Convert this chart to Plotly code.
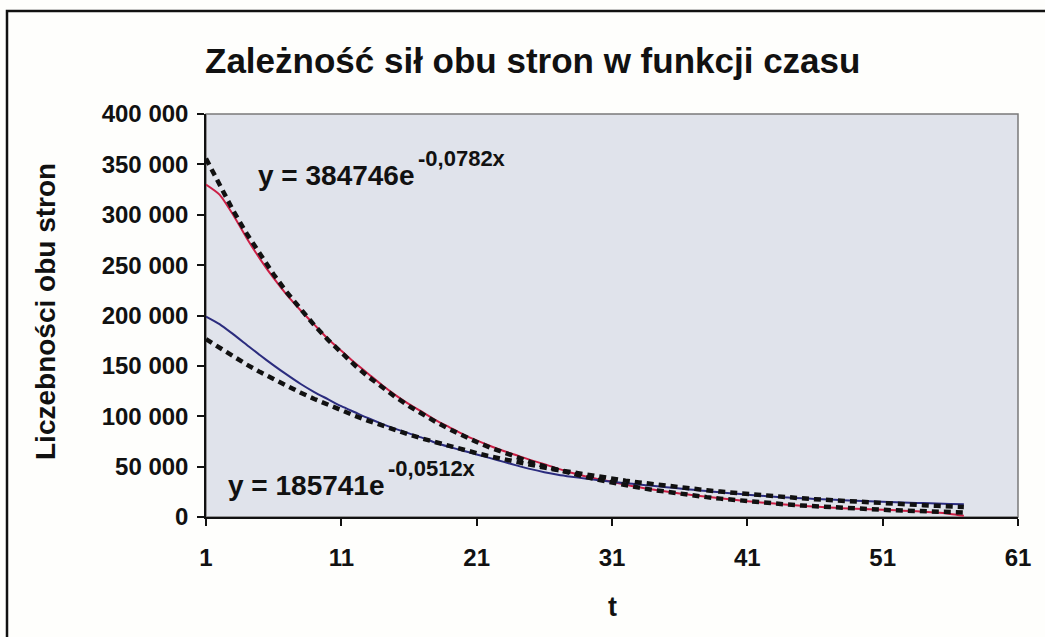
import plotly.graph_objects as go

# ---------------- data ----------------
t = list(range(1, 58))

red_side = [330000, 320000, 300000, 277000, 256000, 237000, 220000, 205000, 191000, 177000,
            165000, 153000, 142000, 131000, 121000, 112000, 104000, 96000, 89000, 82000,
            76000, 70500, 65500, 61000, 56500, 52500, 48000, 44000, 40500, 37500,
            35000, 32000, 29500, 27300, 25300, 23400, 21700, 20000, 18500, 17100,
            15700, 14400, 13300, 12200, 11200, 10300, 9500, 8800, 8200, 7600,
            7100, 6600, 6000, 5300, 4400, 3000, 1200]

blue_side = [199000, 191500, 181500, 171000, 160500, 150500, 141000, 132000, 124000, 117000,
             110000, 104000, 98000, 92500, 87500, 83000, 78500, 73500, 69500, 65800,
             62100, 58400, 54700, 51000, 47500, 44500, 42000, 40000, 38200, 36500,
             35000, 33600, 32200, 30900, 29600, 28300, 27000, 25700, 24500, 23300,
             22200, 21100, 20100, 19300, 18600, 17900, 17300, 16700, 16200, 15700,
             15200, 14700, 14200, 13800, 13400, 13000, 12700]

red_trend = [355800, 329040, 304290, 281400, 260230, 240660, 222560, 205820, 190340, 176020,
             162780, 150540, 139210, 128740, 119060, 110100, 101820, 94160, 87080, 80530,
             74470, 68870, 63690, 58900, 54470, 50370, 46580, 43080, 39840, 36840,
             34070, 31510, 29140, 26950, 24920, 23050, 21310, 19710, 18230, 16860,
             15590, 14420, 13330, 12330, 11400, 10540, 9750, 9020, 8340, 7710,
             7130, 6600, 6100, 5640, 5220, 4820, 4460]

blue_trend = [176470, 167660, 159290, 151340, 143790, 136610, 129790, 123310, 117160, 111310,
              105750, 100480, 95460, 90700, 86170, 81870, 77780, 73900, 70210, 66710,
              63380, 60210, 57210, 54350, 51640, 49060, 46610, 44290, 42080, 39980,
              37980, 36090, 34290, 32570, 30950, 29400, 27940, 26540, 25220, 23960,
              22760, 21630, 20550, 19520, 18550, 17620, 16740, 15910, 15110, 14360,
              13640, 12960, 12310, 11700, 11110, 10560, 10030]

x_tickvals = [1, 11, 21, 31, 41, 51, 61]
y_tickvals = [0, 50000, 100000, 150000, 200000, 250000, 300000, 350000, 400000]
y_ticktext = ["0", "50 000", "100 000", "150 000", "200 000", "250 000",
              "300 000", "350 000", "400 000"]

title_text = "Zależność sił obu stron w funkcji czasu"
y_title = "Liczebności obu stron"
x_title = "t"
eq_red_main, eq_red_exp = "y = 384746e", "-0,0782x"
eq_blue_main, eq_blue_exp = "y = 185741e", "-0,0512x"

# ---------------- layout constants ----------------
W, H = 1045, 637
L, R, T, B = 206, 27, 114, 120
PW, PH = W - L - R, H - T - B
FONT = "Liberation Sans, Arial, sans-serif"
INK = "#111111"


def px_x(px):
    return (px - L) / PW


def px_y(py):
    return (H - B - py) / PH


fig = go.Figure()

fig.add_trace(go.Scatter(x=t, y=red_side, mode="lines",
                         line=dict(color="#cc1f45", width=2, shape="spline", smoothing=0.6),
                         showlegend=False))
fig.add_trace(go.Scatter(x=t, y=blue_side, mode="lines",
                         line=dict(color="#2b2c7e", width=2, shape="spline", smoothing=0.6),
                         showlegend=False))
fig.add_trace(go.Scatter(x=t, y=red_trend, mode="lines",
                         line=dict(color=INK, width=4.5, dash="7px,5px"),
                         showlegend=False))
fig.add_trace(go.Scatter(x=t, y=blue_trend, mode="lines",
                         line=dict(color=INK, width=4.5, dash="7px,5px"),
                         showlegend=False))

fig.update_layout(
    width=W, height=H,
    margin=dict(l=L, r=R, t=T, b=B, pad=0),
    paper_bgcolor="#fefefc",
    plot_bgcolor="#e0e3eb",
    font=dict(family=FONT, color=INK),
    showlegend=False,
)

tickfont = dict(size=24, family=FONT, color=INK, weight="bold")
fig.update_xaxes(range=[1, 61], tickvals=x_tickvals, ticks="outside", ticklen=7,
                 tickwidth=1.5, tickcolor=INK, showline=True, linecolor=INK,
                 linewidth=1.5, showgrid=False, zeroline=False,
                 tickfont=tickfont, ticklabelstandoff=11)
fig.update_yaxes(range=[0, 400000], tickvals=y_tickvals, ticktext=y_ticktext,
                 ticks="outside", ticklen=7, tickwidth=1.5, tickcolor=INK,
                 showline=True, linecolor=INK, linewidth=1.5, showgrid=False,
                 zeroline=False, tickfont=tickfont, ticklabelstandoff=4)

# plot area border (gray) and outer chart frame (black)
fig.add_shape(type="rect", xref="paper", yref="paper", x0=0, y0=0, x1=1, y1=1,
              line=dict(color="#7a7a7a", width=1.5), layer="below")
fig.add_shape(type="rect", xref="paper", yref="paper",
              x0=px_x(7), y0=px_y(660), x1=px_x(1070), y1=px_y(11),
              line=dict(color=INK, width=2.5))

# title & axis titles
fig.add_annotation(text="<b>" + title_text + "</b>", xref="paper", yref="paper",
                   x=px_x(532), y=px_y(60), showarrow=False, xanchor="center",
                   yanchor="middle", font=dict(size=35, family=FONT, color=INK))
fig.add_annotation(text="<b>" + y_title + "</b>", xref="paper", yref="paper",
                   x=px_x(45), y=px_y(312), showarrow=False, textangle=-90,
                   xanchor="center", yanchor="middle",
                   font=dict(size=28, family=FONT, color=INK))
fig.add_annotation(text="<b>" + x_title + "</b>", xref="paper", yref="paper",
                   x=px_x(612), y=px_y(607), showarrow=False, xanchor="center",
                   yanchor="middle", font=dict(size=27, family=FONT, color=INK))

# trendline equations (main part + exponent)
eqfont = dict(size=28, family=FONT, color=INK, weight="bold")
expfont = dict(size=22, family=FONT, color=INK, weight="bold")
fig.add_annotation(text=eq_red_main, xref="paper", yref="paper", x=px_x(256),
                   y=px_y(175), showarrow=False, xanchor="left", yanchor="middle",
                   font=eqfont)
fig.add_annotation(text=eq_red_exp, xref="paper", yref="paper", x=px_x(416),
                   y=px_y(158), showarrow=False, xanchor="left", yanchor="middle",
                   font=expfont)
fig.add_annotation(text=eq_blue_main, xref="paper", yref="paper", x=px_x(226),
                   y=px_y(485), showarrow=False, xanchor="left", yanchor="middle",
                   font=eqfont)
fig.add_annotation(text=eq_blue_exp, xref="paper", yref="paper", x=px_x(386),
                   y=px_y(468), showarrow=False, xanchor="left", yanchor="middle",
                   font=expfont)

fig.write_html("out.html",
               config={"displayModeBar": False},
               post_script="document.body.style.margin='0';"
                           "document.body.style.overflow='hidden';")
